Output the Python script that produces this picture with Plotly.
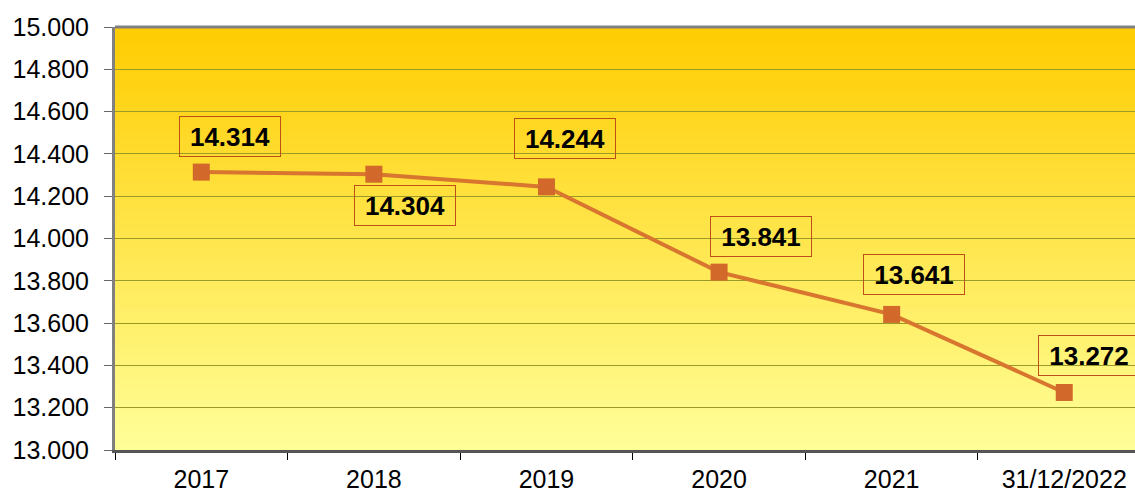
import plotly.graph_objects as go

categories = ["2017", "2018", "2019", "2020", "2021", "31/12/2022"]
values = [14314, 14304, 14244, 13841, 13641, 13272]
label_xshift = [29, 31, 19, 42, 22, 25]
label_yshift = [36, -31, 48, 36, 40, 37]

FONT = "Liberation Sans, Arial, sans-serif"
LINE_COLOR = "#D2692B"

fig = go.Figure()
fig.add_trace(go.Scatter(
    x=categories, y=values, mode="lines+markers",
    line=dict(color="#D8752F", width=4),
    marker=dict(symbol="square", size=17, color=LINE_COLOR),
    hoverinfo="skip", showlegend=False,
))

# vertical gradient background (gold -> pale yellow)
top = (255, 204, 0)
bot = (255, 255, 153)
n = 90
shapes = []
for i in range(n):
    t = (i + 0.5) / n
    c = tuple(round(bot[k] + (top[k] - bot[k]) * t) for k in range(3))
    shapes.append(dict(type="rect", xref="x domain", yref="y domain",
                       x0=0, x1=1, y0=i / n, y1=(i + 1) / n + 0.002,
                       fillcolor=f"rgb{c}", line=dict(width=0), layer="below"))
shapes.append(dict(type="line", xref="x domain", yref="y domain",
                   x0=0, x1=1, y0=1, y1=1, line=dict(color="#808080", width=3)))

annotations = []
for i, (v, dx, dy) in enumerate(zip(values, label_xshift, label_yshift)):
    annotations.append(dict(
        x=i, y=v, xref="x", yref="y", text=f"{v:,}".replace(",", "."),
        showarrow=False, xshift=dx, yshift=dy,
        font=dict(family=FONT, size=26, color="black", weight="bold"),
        bordercolor="#BC5018", borderwidth=1, borderpad=2,
        width=96, height=35, align="center", valign="middle",
    ))

fig.update_layout(
    width=1135, height=490,
    margin=dict(l=115, r=0, t=27, b=40),
    paper_bgcolor="white", plot_bgcolor="rgba(0,0,0,0)",
    separators=",.",
    shapes=shapes, annotations=annotations,
    font=dict(family=FONT, size=25, color="black"),
)
fig.update_xaxes(
    type="category", range=[-0.5, 5.41], tickson="boundaries",
    ticks="outside", ticklen=7, tickcolor="black", tickwidth=1,
    showline=True, linecolor="#555555", linewidth=3,
    showgrid=False, ticklabelstandoff=5, automargin=False,
    tickfont=dict(family=FONT, size=25, color="black"),
)
fig.update_yaxes(
    range=[13000, 15000], dtick=200, tickformat=",d",
    ticks="outside", ticklen=8, tickcolor="#666666", tickwidth=1,
    showline=True, linecolor="#808080", linewidth=3,
    showgrid=True, gridcolor="#9A9A28", gridwidth=1,
    zeroline=False, ticklabelstandoff=10, automargin=False,
    tickfont=dict(family=FONT, size=25, color="black"),
)

fig.write_html(
    "out.html",
    config=dict(displayModeBar=False, staticPlot=True),
    post_script="document.body.style.margin='0';document.body.style.overflow='hidden';",
)
